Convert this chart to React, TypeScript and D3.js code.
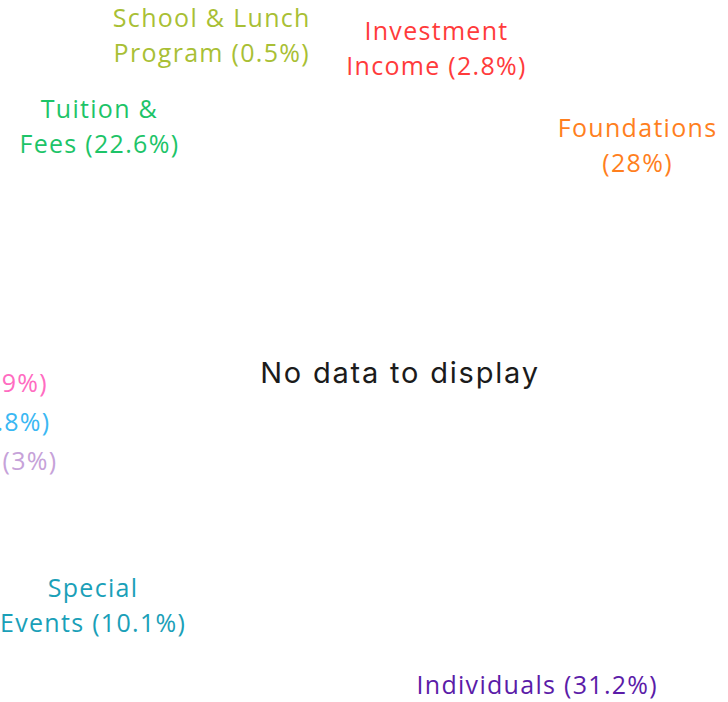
import React from "react";
import * as d3 from "d3";

// ---- data ----
const categories = [
  "Investment Income",
  "Foundations",
  "Individuals",
  "Special Events",
  "Sponsorships",
  "Government Grants",
  "Other Income",
  "Tuition & Fees",
  "School & Lunch Program",
];
const shares = [2.8, 28, 31.2, 10.1, 3, 0.8, 0.9, 22.6, 0.5];
const shareLabels = ["2.8%", "28%", "31.2%", "10.1%", "3%", "0.8%", "0.9%", "22.6%", "0.5%"];
// number of words kept on the first line of each wrapped label (0 = no wrap)
const wrapAfterWords = [1, 1, 0, 1, 0, 0, 0, 2, 3];
const colors = [
  "#ff3b3b",
  "#ff7f1e",
  "#5b1ca8",
  "#1aa0b8",
  "#c6a2d9",
  "#3bb8f3",
  "#ff6cc1",
  "#1dc468",
  "#a9bf35",
];
const noDataText = "No data to display";

// ---- layout ----
const W = 728;
const H = 702;
const cx = 400;
const cy = 380;
const startDeg = -7;
const naturalRRight = 395;
const naturalRLeft = 390;
const rightR = 334;
const leftR = 393;
const leftEdgeR = 352;
const lineH = 35;
const gap = 4;
const fontSize = 25;
const letterSpacing = 1.3;
const labelFont = "'Open Sans', 'Noto Sans', sans-serif";

type Lab = {
  i: number;
  lines: string[];
  target: number;
  size: number;
  y: number;
  side: number;
};

let ctx: CanvasRenderingContext2D | null = null;
function textWidth(t: string) {
  if (!ctx && typeof document !== "undefined") {
    ctx = document.createElement("canvas").getContext("2d");
  }
  if (!ctx) return t.length * fontSize * 0.55;
  ctx.font = `${fontSize}px ${labelFont}`;
  return ctx.measureText(t).width + letterSpacing * t.length;
}

function distribute(items: Lab[], minY: number, maxY: number) {
  const sorted = [...items].sort((a, b) => a.target - b.target);
  let groups = sorted.map((b) => ({ boxes: [b], top: b.target - b.size / 2, size: b.size }));
  const place = (g: { boxes: Lab[]; top: number; size: number }) => {
    let off = 0;
    let sum = 0;
    g.boxes.forEach((b) => {
      sum += b.target - (off + b.size / 2);
      off += b.size;
    });
    g.top = sum / g.boxes.length;
    g.top = Math.max(minY, Math.min(maxY - g.size, g.top));
  };
  groups.forEach(place);
  let changed = true;
  while (changed) {
    changed = false;
    for (let k = 1; k < groups.length; k++) {
      const a = groups[k - 1];
      const b = groups[k];
      if (a.top + a.size > b.top + 0.01) {
        const m = { boxes: [...a.boxes, ...b.boxes], top: 0, size: a.size + b.size };
        place(m);
        groups.splice(k - 1, 2, m);
        changed = true;
        break;
      }
    }
  }
  groups.forEach((g) => {
    let off = g.top;
    g.boxes.forEach((b) => {
      b.y = off + b.size / 2;
      off += b.size;
    });
  });
}

export default function App() {
  const pie = d3
    .pie<number>()
    .sort(null)
    .value((d) => d)
    .startAngle((startDeg * Math.PI) / 180)
    .endAngle((startDeg * Math.PI) / 180 + 2 * Math.PI);
  const arcs = pie(shares);
  const splitDeg = startDeg + 180;

  const labs: Lab[] = arcs.map((a, i) => {
    const mid = (a.startAngle + a.endAngle) / 2;
    const words = `${categories[i]} (${shareLabels[i]})`.split(" ");
    const k = wrapAfterWords[i];
    const lines = k > 0 ? [words.slice(0, k).join(" "), words.slice(k).join(" ")] : [words.join(" ")];
    const side = (mid * 180) / Math.PI < splitDeg ? 1 : -1;
    const nr = side === 1 ? naturalRRight : naturalRLeft;
    return {
      i,
      lines,
      target: cy - Math.cos(mid) * nr,
      size: lines.length * lineH + gap,
      y: 0,
      side,
    };
  });

  distribute(labs.filter((l) => l.side === 1), 11, H + 2);
  distribute(labs.filter((l) => l.side === -1), -2, H + 2);

  return (
    <svg
      width={W}
      height={H}
      style={{ position: "absolute", left: 0, top: 0, background: "#fff" }}
    >
      {labs.map((l) => {
        const dy = l.y - cy;
        const blockW = Math.max(...l.lines.map(textWidth));
        let x: number;
        let anchor: "middle" | "end" = "middle";
        if (l.side === 1) {
          x = cx + Math.sqrt(Math.max(0, rightR * rightR - dy * dy));
          x = Math.min(x, W - blockW / 2 - 2);
        } else if (l.lines.length === 1) {
          x = cx - Math.sqrt(Math.max(0, leftEdgeR * leftEdgeR - dy * dy));
          anchor = "end";
        } else {
          x = cx - Math.sqrt(Math.max(0, leftR * leftR - dy * dy));
          x = Math.max(x, blockW / 2);
        }
        const y0 = l.y - ((l.lines.length - 1) * lineH) / 2 + fontSize * 0.36;
        return (
          <text
            key={l.i}
            x={x}
            y={y0}
            textAnchor={anchor}
            fill={colors[l.i]}
            fontFamily={labelFont}
            fontSize={fontSize}
            letterSpacing={letterSpacing}
          >
            {l.lines.map((t, j) => (
              <tspan key={j} x={x} dy={j === 0 ? 0 : lineH}>
                {t}
              </tspan>
            ))}
          </text>
        );
      })}
      <text
        x={cx}
        y={cy + 3}
        textAnchor="middle"
        fill="#1b1b1b"
        fontFamily="Inter, 'Open Sans', sans-serif"
        fontSize={29}
        letterSpacing={1.8}
      >
        {noDataText}
      </text>
    </svg>
  );
}
